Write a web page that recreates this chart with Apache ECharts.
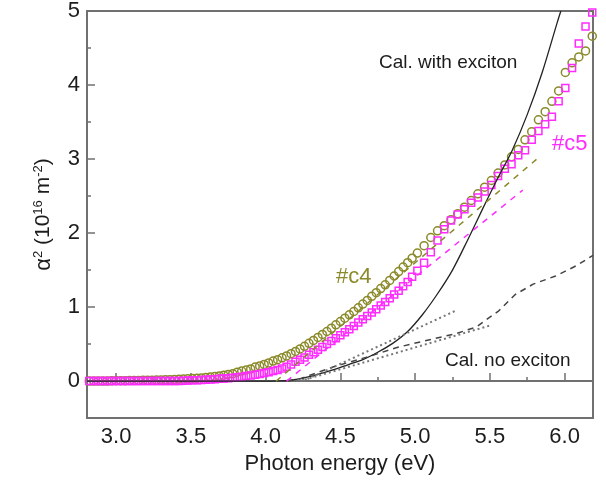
<!DOCTYPE html>
<html lang="en">
<head>
	<meta charset="UTF-8">
	<title>alpha squared vs photon energy</title>
	<script src="https://cdn.jsdelivr.net/npm/echarts@6/dist/echarts.min.js"></script>
	<style>
		* { margin: 0; padding: 0; }
		#container { width: 606px; height: 480px; background: #fff; }
	</style>
</head>
<body>
<div id="container"></div>
<script type="text/javascript">
	// measured points (eV), shared by both samples
	var energy = [2.82, 2.85, 2.88, 2.91, 2.94, 2.97, 3.00, 3.03, 3.06, 3.09, 3.12, 3.15, 3.18, 3.21, 3.24, 3.27, 3.30, 3.33, 3.36, 3.39, 3.42, 3.45, 3.48, 3.51, 3.54, 3.57, 3.60, 3.63, 3.66, 3.69, 3.72, 3.75, 3.78,
		3.81, 3.84, 3.87, 3.90, 3.93, 3.96, 3.99, 4.02, 4.05, 4.08, 4.11, 4.14, 4.17, 4.20, 4.23, 4.26, 4.29, 4.32, 4.35, 4.38, 4.41, 4.44, 4.47, 4.50, 4.53, 4.56, 4.59, 4.62, 4.65, 4.68, 4.71, 4.74, 4.77, 4.80, 4.83, 4.86, 4.89, 4.92, 4.95, 4.98,
		5.015, 5.06, 5.105, 5.15, 5.195, 5.24, 5.285, 5.33, 5.375, 5.42, 5.465, 5.51, 5.555, 5.60, 5.645, 5.69, 5.735, 5.78, 5.825, 5.87, 5.915, 5.96, 6.005, 6.05, 6.095, 6.14, 6.185];
	var c4 = [0, 0, 0, 0, 0, 0.003, 0.005, 0.005, 0.006, 0.007, 0.008, 0.009, 0.01, 0.011, 0.012, 0.014, 0.015, 0.017, 0.019, 0.021, 0.024, 0.027, 0.03, 0.034, 0.038, 0.043, 0.048, 0.055, 0.062, 0.07, 0.08, 0.09, 0.10,
		0.12, 0.135, 0.15, 0.165, 0.19, 0.205, 0.225, 0.245, 0.27, 0.29, 0.315, 0.34, 0.37, 0.40, 0.435, 0.47, 0.51, 0.55, 0.59, 0.63, 0.67, 0.715, 0.76, 0.805, 0.85, 0.895, 0.94, 0.99, 1.04, 1.09, 1.145, 1.195, 1.25, 1.30, 1.36, 1.42, 1.48, 1.54, 1.60, 1.66,
		1.73, 1.83, 1.94, 2.03, 2.10, 2.18, 2.26, 2.35, 2.44, 2.53, 2.62, 2.71, 2.81, 2.92, 3.03, 3.13, 3.26, 3.37, 3.53, 3.64, 3.78, 3.92, 4.17, 4.30, 4.38, 4.46, 4.66];
	var c5 = [0, 0, 0, 0, 0, 0, 0, 0, 0, 0, 0, 0, 0, 0, 0, 0, 0, 0, 0, 0, 0, 0.005, 0.007, 0.01, 0.012, 0.015, 0.018, 0.022, 0.026, 0.03, 0.035, 0.04, 0.046,
		0.053, 0.06, 0.068, 0.077, 0.087, 0.097, 0.108, 0.12, 0.135, 0.15, 0.17, 0.195, 0.225, 0.26, 0.29, 0.32, 0.355, 0.39, 0.425, 0.46, 0.50, 0.54, 0.58, 0.62, 0.66, 0.70, 0.745, 0.79, 0.835, 0.88, 0.925, 0.97, 1.02, 1.07, 1.12, 1.17, 1.22, 1.28, 1.34, 1.41,
		1.49, 1.60, 1.74, 1.90, 2.05, 2.17, 2.25, 2.32, 2.41, 2.48, 2.56, 2.65, 2.77, 2.87, 2.93, 3.05, 3.12, 3.26, 3.38, 3.47, 3.57, 3.78, 3.96, 4.23, 4.56, 4.79, 4.98];

	// calculation with exciton
	var excE = [2.805, 3.5, 4.0, 4.1, 4.15, 4.25, 4.35, 4.45, 4.55, 4.65, 4.75, 4.85, 4.95, 5.05, 5.15, 5.25, 5.35, 5.45, 5.55, 5.65, 5.75, 5.85, 5.95, 5.975];
	var excV = [0, 0, 0, 0.002, 0.008, 0.04, 0.09, 0.15, 0.22, 0.29, 0.39, 0.51, 0.67, 0.90, 1.18, 1.50, 1.90, 2.32, 2.73, 3.12, 3.60, 4.17, 4.84, 5.0];
	// calculation without exciton
	var noExcE = [4.15, 4.23, 4.45, 4.67, 4.89, 5.12, 5.27, 5.41, 5.47, 5.56, 5.67, 5.79, 5.94, 6.08, 6.19];
	var noExcV = [0, 0.03, 0.19, 0.32, 0.46, 0.57, 0.64, 0.73, 0.82, 0.95, 1.17, 1.31, 1.42, 1.56, 1.70];
	// linear fits (end points)
	var fitC4 = [[4.07, 0], [5.82, 3.01]];
	var fitC5 = [[4.14, 0], [5.72, 2.58]];
	var dotUpper = [[4.25, 0], [5.27, 0.95]];
	var dotLower = [[4.23, 0], [5.50, 0.75]];

	var xMajor = [3.0, 3.5, 4.0, 4.5, 5.0, 5.5, 6.0];
	var xMinor = [3.25, 3.75, 4.25, 4.75, 5.25, 5.75];
	var yMajor = [0, 1, 2, 3, 4, 5];
	var yMinor = [0.5, 1.5, 2.5, 3.5, 4.5];

	function pairs(xs, ys) {
		var out = [];
		for (var i = 0; i < xs.length; i++) out.push([xs[i], ys[i]]);
		return out;
	}

	var olive = '#8a8a2a', magenta = '#ff2bff', axisGray = '#707070', ink = '#1c1c1c';
	var font = 'Liberation Sans, Arial, sans-serif';

	var myChart = echarts.init(document.getElementById('container'));

	var baseX = {
		type: 'value', min: 2.805, max: 6.19, position: 'bottom',
		splitLine: {show: false}
	};
	var baseY = {
		type: 'value', min: -0.5, max: 5, position: 'left',
		splitLine: {show: false}
	};

	var option = {
		animation: false,
		grid: {left: 87, right: 13, top: 11, bottom: 61, show: true, borderColor: axisGray, borderWidth: 2},
		xAxis: [
			Object.assign({}, baseX, {
				name: 'Photon energy (eV)', nameLocation: 'middle', nameGap: 34,
				nameTextStyle: {fontSize: 22, color: ink, fontFamily: font},
				axisLine: {show: true, lineStyle: {color: axisGray, width: 2}},
				axisTick: {inside: true, length: 8, customValues: xMajor, lineStyle: {color: axisGray, width: 1.5}},
				axisLabel: {customValues: xMajor, margin: 8, fontSize: 22, color: ink, fontFamily: font,
					formatter: function (v) { return v.toFixed(1); }}
			}),
			Object.assign({}, baseX, {
				axisLine: {show: false},
				axisTick: {inside: true, length: 4, customValues: xMinor, lineStyle: {color: axisGray, width: 1.5}},
				axisLabel: {show: false}
			})
		],
		yAxis: [
			Object.assign({}, baseY, {
				name: '{g|α}{s|2} (10{s|16} m{s|-2})', nameLocation: 'middle', nameGap: 32, nameRotate: 90,
				nameTextStyle: {fontSize: 21, color: ink, fontFamily: font,
					rich: {
						g: {fontSize: 22, color: ink, fontFamily: font},
						s: {fontSize: 13, color: ink, fontFamily: font, padding: [0, 0, 10, 0]}
					}},
				axisLine: {show: true, lineStyle: {color: axisGray, width: 2}},
				axisTick: {inside: true, length: 8, customValues: yMajor, lineStyle: {color: axisGray, width: 1.5}},
				axisLabel: {customValues: yMajor, margin: 7, fontSize: 22, color: ink, fontFamily: font}
			}),
			Object.assign({}, baseY, {
				axisLine: {show: false},
				axisTick: {inside: true, length: 4, customValues: yMinor, lineStyle: {color: axisGray, width: 1.5}},
				axisLabel: {show: false}
			})
		],
		series: [
			{
				name: 'Cal. with exciton', type: 'line', showSymbol: false, smooth: 0.3,
				data: pairs(excE, excV),
				lineStyle: {color: '#222', width: 1.3}
			},
			{
				name: 'Cal. no exciton', type: 'line', showSymbol: false,
				data: pairs(noExcE, noExcV),
				lineStyle: {color: '#444', width: 1.5, type: [6, 5]}
			},
			{
				name: 'dot1', type: 'line', showSymbol: false, data: dotUpper,
				lineStyle: {color: '#777', width: 2, type: [2, 3]}
			},
			{
				name: 'dot2', type: 'line', showSymbol: false, data: dotLower,
				lineStyle: {color: '#777', width: 2, type: [2, 3]}
			},
			{
				name: 'fit c4', type: 'line', showSymbol: false, data: fitC4,
				lineStyle: {color: olive, width: 1.5, type: [6, 6]}
			},
			{
				name: 'fit c5', type: 'line', showSymbol: false, data: fitC5,
				lineStyle: {color: magenta, width: 1.5, type: [6, 6]}
			},
			{
				name: '#c4', type: 'scatter', symbol: 'circle', symbolSize: 8,
				data: pairs(energy, c4),
				itemStyle: {color: 'rgba(0,0,0,0)', borderColor: olive, borderWidth: 1.5, opacity: 1}
			},
			{
				name: '#c5', type: 'scatter', symbol: 'rect', symbolSize: 7,
				data: pairs(energy, c5),
				itemStyle: {color: 'rgba(0,0,0,0)', borderColor: magenta, borderWidth: 1.5, opacity: 1}
			}
		],
		graphic: [
			{type: 'text', x: 379, y: 63, style: {text: 'Cal. with exciton', fill: ink, font: '19px ' + font, verticalAlign: 'middle'}},
			{type: 'text', x: 445, y: 361, style: {text: 'Cal. no exciton', fill: ink, font: '19px ' + font, verticalAlign: 'middle'}},
			{type: 'text', x: 336, y: 277, style: {text: '#c4', fill: olive, font: '22px ' + font, verticalAlign: 'middle'}},
			{type: 'text', x: 552, y: 144, style: {text: '#c5', fill: magenta, font: '22px ' + font, verticalAlign: 'middle'}}
		]
	};

	myChart.setOption(option);
</script>
</body>
</html>
